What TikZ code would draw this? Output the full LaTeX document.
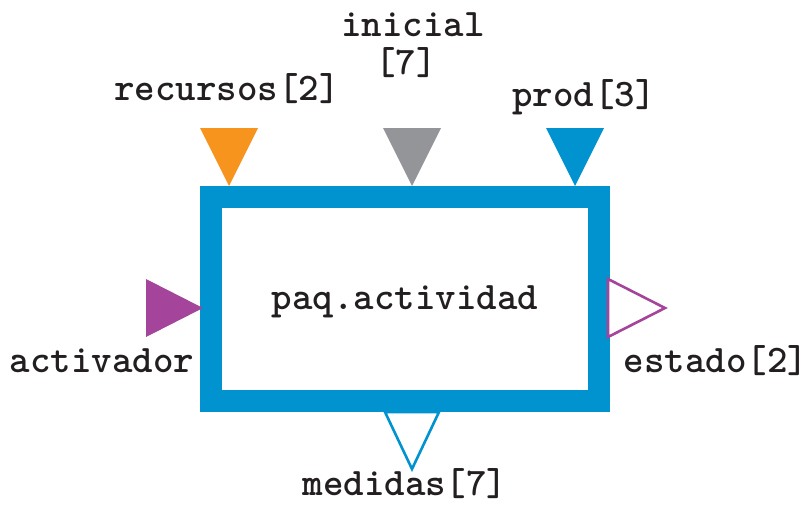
\documentclass[tikz,border=0pt]{standalone}
\usepackage{fontspec}
\begin{document}
\begin{tikzpicture}[x=1pt,y=-1pt,
  lbl/.style={font=\ttfamily\bfseries\fontsize{39}{41}\selectfont, text=ink, inner sep=0pt},
  portout/.style={line width=2.6pt, line join=miter, fill=white}]
\definecolor{ink}{HTML}{231F20}
\definecolor{cblue}{HTML}{0093CF}
\definecolor{corange}{HTML}{F7941D}
\definecolor{cgray}{HTML}{939598}
\definecolor{cmag}{HTML}{A4449A}
\useasboundingbox (0,0) rectangle (811,504);

% activity box with heavy border
\node[draw=cblue, line width=22pt, minimum width=388pt, minimum height=204pt,
      inner sep=0pt, fill=white] (box) at (405,299) {};
\node[lbl] (name) at (405,302) {paq.actividad};

% input ports on top
\fill[corange] (200,128) -- (258,128) -- (229,186) -- cycle;
\fill[cgray]   (383,128) -- (441,128) -- (412,186) -- cycle;
\fill[cblue]   (546,128) -- (604,128) -- (575,186) -- cycle;

% activator port (left) and state port (right)
\fill[cmag] (146,279) -- (203,308) -- (146,337) -- cycle;
\draw[portout, draw=cmag] (608,279) -- (665,308) -- (608,337) -- cycle;

% measures port (bottom)
\draw[portout, draw=cblue] (385,412) -- (439,412) -- (412,469) -- cycle;

% port labels
\node[lbl] (rec) at (227,89) {recursos[2]};
\node[lbl] (ini) at (413,25) {inicial};
\node[lbl] (ini7) at (406,63) {[7]};
\node[lbl] (prod) at (584,97) {prod[3]};
\node[lbl] (act) at (102,361) {activador};
\node[lbl] (est) at (716,361) {estado[2]};
\node[lbl] (med) at (405,484) {medidas[7]};
\end{tikzpicture}
\end{document}
